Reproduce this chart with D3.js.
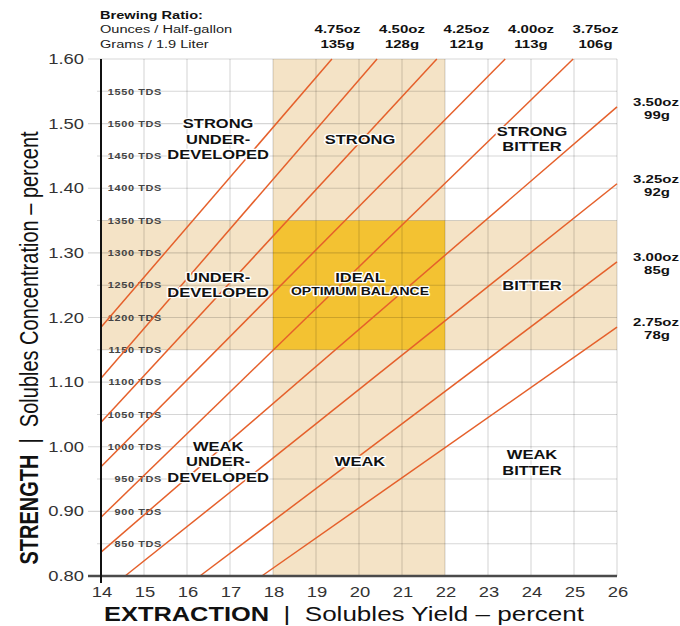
<!DOCTYPE html>
<html><head><meta charset="utf-8">
<script src="https://cdn.jsdelivr.net/npm/d3@7"></script>
<style>
html,body{margin:0;padding:0;background:#fff;}
svg{display:block;font-family:"Liberation Sans",Arial,Helvetica,sans-serif;}
</style></head>
<body>
<svg id="chart" width="680" height="626"></svg>
<script>
// ---------- data ----------
const xTicks = [14,15,16,17,18,19,20,21,22,23,24,25,26];
const yTicks = [0.80,0.90,1.00,1.10,1.20,1.30,1.40,1.50,1.60];
const yGrid = [0.80,0.85,0.90,0.95,1.00,1.05,1.10,1.15,1.20,1.25,1.30,1.35,1.40,1.45,1.50,1.55,1.60];
const tdsLabels = [850,900,950,1000,1050,1100,1150,1200,1250,1300,1350,1400,1450,1500,1550];
// brewing ratio lines
const ratioOunces = ["4.75oz","4.50oz","4.25oz","4.00oz","3.75oz","3.50oz","3.25oz","3.00oz","2.75oz"];
const ratioGrams  = ["135g","128g","121g","113g","106g","99g","92g","85g","78g"];
const lineStartE = [14, 14, 14, 14, 14, 14, 14.56, 16.3, 17.74];
const lineStartC = [1.185, 1.106, 1.038, 0.969, 0.891, 0.837, 0.80, 0.80, 0.80];
const lineEndE   = [19.37, 20.42, 21.81, 23.40, 24.98, 26, 26, 26, 26];
const lineEndC   = [1.60, 1.60, 1.60, 1.60, 1.60, 1.526, 1.407, 1.286, 1.185];
// where the ratio captions sit (extraction for top captions, strength for right captions)
const captionE = [19.5, 21.0, 22.5, 24.0, 25.5, null, null, null, null];
const captionC = [null, null, null, null, null, 1.526, 1.407, 1.286, 1.185];
// zones
const idealExtraction = [18, 22];
const idealStrength = [1.15, 1.35];
const zoneLabels = [
  {lines:["STRONG","UNDER-","DEVELOPED"], e:16.7, c:1.476},
  {lines:["STRONG"], e:20, c:1.475},
  {lines:["STRONG","BITTER"], e:24, c:1.476},
  {lines:["UNDER-","DEVELOPED"], e:16.7, c:1.25},
  {lines:["IDEAL"], e:20, c:1.25, sub:"OPTIMUM BALANCE"},
  {lines:["BITTER"], e:24, c:1.25},
  {lines:["WEAK","UNDER-","DEVELOPED"], e:16.7, c:0.977},
  {lines:["WEAK"], e:20, c:0.977},
  {lines:["WEAK","BITTER"], e:24, c:0.976}
];

// ---------- layout ----------
const SX = 1.27;
const svg = d3.select("#chart");
const x = d3.scaleLinear().domain([14,26]).range([101,617]);
const y = d3.scaleLinear().domain([0.80,1.60]).range([576,59]);

function txt(g, px, py, str, size, weight, anchor, fill){
  return g.append("text")
    .attr("transform",`translate(${px},${py}) scale(${SX},1)`)
    .attr("text-anchor", anchor||"start")
    .attr("font-size", size).attr("font-weight", weight||"normal")
    .attr("fill", fill||"#111").text(str);
}

// shaded bands
const tan = "#f4e3c6", gold = "#f3c232";
svg.append("rect").attr("x",x(idealExtraction[0])).attr("y",y(1.60))
  .attr("width",x(idealExtraction[1])-x(idealExtraction[0])).attr("height",y(0.80)-y(1.60)).attr("fill",tan);
svg.append("rect").attr("x",x(14)).attr("y",y(idealStrength[1]))
  .attr("width",x(26)-x(14)).attr("height",y(idealStrength[0])-y(idealStrength[1])).attr("fill",tan);
svg.append("rect").attr("x",x(idealExtraction[0])).attr("y",y(idealStrength[1]))
  .attr("width",x(idealExtraction[1])-x(idealExtraction[0])).attr("height",y(idealStrength[0])-y(idealStrength[1])).attr("fill",gold);

// grid
const grid = svg.append("g").attr("stroke","rgba(0,0,0,0.16)").attr("stroke-width",1.1);
grid.selectAll("line.v").data(xTicks).join("line")
  .attr("x1",d=>x(d)).attr("x2",d=>x(d)).attr("y1",y(1.60)).attr("y2",y(0.80));
grid.selectAll("line.h").data(yGrid).join("line")
  .attr("x1",d=>yTicks.some(t=>Math.abs(t-d)<1e-6)?88:97).attr("x2",x(26))
  .attr("y1",d=>y(d)).attr("y2",d=>y(d));

// TDS labels
const tdsG = svg.append("g");
tdsLabels.forEach(t=>{
  txt(tdsG, 162, y(t/1000)+3.2, t+" TDS", 8.6, "bold", "end", "#444")
    .attr("letter-spacing","0.5");
});

// ratio lines
const lg = svg.append("g").attr("stroke","#e5602b").attr("stroke-width",1.5).attr("fill","none");
ratioOunces.forEach((r,i)=>{
  lg.append("line").attr("x1",x(lineStartE[i])).attr("y1",y(lineStartC[i]))
    .attr("x2",x(lineEndE[i])).attr("y2",y(lineEndC[i]));
});

// axes
svg.append("line").attr("x1",88).attr("x2",x(26)).attr("y1",y(0.80)).attr("y2",y(0.80))
  .attr("stroke","#4a4a4a").attr("stroke-width",2.5);
svg.append("line").attr("x1",x(14)).attr("x2",x(14)).attr("y1",y(1.60)).attr("y2",583)
  .attr("stroke","#111").attr("stroke-width",2);

const axG = svg.append("g");
yTicks.forEach(t=>{
  txt(axG, 84, y(t)+5, d3.format(".2f")(t), 14.5, "normal", "end", "#333");
});
xTicks.forEach(t=>{
  txt(axG, x(t)+1, 597, String(t), 14.5, "normal", "middle", "#333");
});

// axis titles
const NB = "\u00a0";
const yt = svg.append("text")
  .attr("transform",`translate(38,348) scale(${SX},1) rotate(-90)`)
  .attr("text-anchor","middle").attr("font-size",20).attr("fill","#111");
yt.append("tspan").attr("font-weight","bold").text("STRENGTH");
yt.append("tspan").attr("font-size",20).text(NB+NB+"|"+NB+NB+"Solubles Concentration \u2013 percent");

const xt = svg.append("text")
  .attr("transform",`translate(104,621) scale(${SX},1)`)
  .attr("font-size",20).attr("fill","#111");
xt.append("tspan").attr("font-weight","bold").text("EXTRACTION");
xt.append("tspan").attr("font-size",20.5).text(NB+NB+"|"+NB+NB+"Solubles Yield \u2013 percent");

// header
const hg = svg.append("g");
txt(hg, 100, 19, "Brewing Ratio:", 11.5, "bold");
txt(hg, 100, 33, "Ounces / Half-gallon", 11.5, "normal", "start", "#222");
txt(hg, 100, 48, "Grams / 1.9 Liter", 11.5, "normal", "start", "#222");

// ratio captions
ratioOunces.forEach((r,i)=>{
  if (captionE[i] !== null){
    const px = x(captionE[i]);
    txt(hg, px, 33, r, 11.8, "bold", "middle");
    txt(hg, px, 48, ratioGrams[i], 11.8, "bold", "middle");
  } else {
    const py = y(captionC[i]);
    txt(hg, 656, py-1, r, 11.8, "bold", "middle");
    txt(hg, 657, py+12, ratioGrams[i], 11.8, "bold", "middle");
  }
});

// zone labels
const zg = svg.append("g");
zoneLabels.forEach(z=>{
  const n = z.lines.length + (z.sub?1:0);
  const lh = 15.5;
  const cx = x(z.e)+1, cy = y(z.c);
  let y0 = cy - (n-1)*lh/2 + 4.5;
  z.lines.forEach((s,k)=>{
    txt(zg, cx, y0 + k*lh, s, 13, "bold", "middle", "#111")
      .attr("stroke","#fff").attr("stroke-width",2.5).attr("paint-order","stroke").attr("stroke-linejoin","round");
  });
  if (z.sub){
    txt(zg, cx, y0 + z.lines.length*lh - 2, z.sub, 11, "bold", "middle", "#111")
      .attr("stroke","#fff").attr("stroke-width",2.5).attr("paint-order","stroke").attr("stroke-linejoin","round");
  }
});
</script>
</body></html>
